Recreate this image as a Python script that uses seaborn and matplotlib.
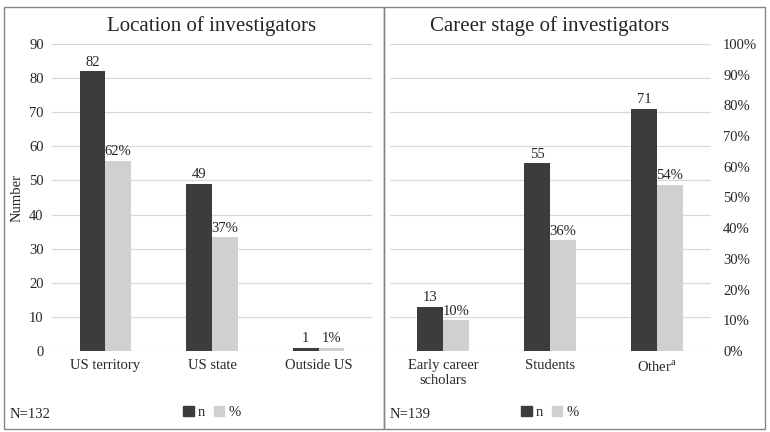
import pandas as pd
import seaborn as sns
import matplotlib.pyplot as plt
from matplotlib.patches import Rectangle
from matplotlib.ticker import FuncFormatter

# data
loc_cats = ["US territory", "US state", "Outside US"]
loc_n = [82, 49, 1]
loc_pct = [62, 37, 1]

career_cats = ["Early career\nscholars", "Students", "Other$^\\mathregular{a}$"]
career_n = [13, 55, 71]
career_pct = [10, 36, 54]

dark = "#3c3c3c"
light = "#d0d0d0"
grid_col = "#d9d9d9"
pal = {"n": dark, "%": light}

sns.set_style("white")
plt.rcParams["font.family"] = ["Liberation Serif", "DejaVu Serif"]
plt.rcParams["mathtext.fontset"] = "custom"
plt.rcParams["mathtext.rm"] = "Liberation Serif"

W, H = 770, 432
fig = plt.figure(figsize=(W / 100, H / 100), dpi=100)


def px(x0, y0, w, h):
    return [x0 / W, 1 - (y0 + h) / H, w / W, h / H]


def panel(rect, cats, n_vals, pct_vals, title, note, show_left, show_right, border):
    ax = fig.add_axes(rect)
    df_n = pd.DataFrame({"cat": cats, "val": n_vals, "series": "n"})
    df_p = pd.DataFrame({"cat": cats, "val": pct_vals, "series": "%"})

    sns.barplot(data=df_n, x="cat", y="val", hue="series", hue_order=["n", "%"],
                palette=pal, width=0.48, gap=0, dodge=True, ax=ax, legend=False,
                saturation=1, linewidth=0)
    ax.set_ylim(0, 90)
    ax.set_yticks(range(0, 91, 10))
    ax.grid(axis="y", color=grid_col, linewidth=0.9)
    ax.set_axisbelow(True)
    for s in ax.spines.values():
        s.set_visible(False)
    ax.tick_params(axis="both", length=0, labelsize=10.5)
    ax.tick_params(axis="y", pad=6)
    ax.tick_params(axis="x", pad=6)
    ax.set_xlabel("")
    ax.set_ylabel("Number" if show_left else "", fontsize=10.5, labelpad=4)
    if not show_left:
        ax.set_yticklabels([])
    ax.set_title(title, fontsize=15, pad=9)
    ax.bar_label(ax.containers[0], fmt="%d", padding=2, fontsize=10.5)

    ax2 = ax.twinx()
    sns.barplot(data=df_p, x="cat", y="val", hue="series", hue_order=["n", "%"],
                palette=pal, width=0.48, gap=0, dodge=True, ax=ax2, legend=False,
                saturation=1, linewidth=0)
    ax2.set_ylim(0, 100)
    ax2.set_yticks(range(0, 101, 10))
    ax2.yaxis.set_major_formatter(FuncFormatter(lambda v, p: f"{v:.0f}%"))
    for s in ax2.spines.values():
        s.set_visible(False)
    ax2.tick_params(axis="y", length=0, labelsize=10.5, pad=9)
    ax2.set_ylabel("")
    if not show_right:
        ax2.set_yticklabels([])
    ax2.bar_label(ax2.containers[-1], fmt="%d%%", padding=2, fontsize=10.5)

    handles = [Rectangle((0, 0), 1, 1, color=dark), Rectangle((0, 0), 1, 1, color=light)]
    ax.legend(handles, ["n", "%"], loc="center", bbox_to_anchor=(0.5, -0.2),
              ncol=2, frameon=False, fontsize=10.5, handlelength=0.7, handleheight=0.7,
              handletextpad=0.3, columnspacing=0.6)

    bx0, by0, bw, bh = border
    fig.add_artist(Rectangle((bx0 / W, 1 - (by0 + bh) / H), bw / W, bh / H,
                             transform=fig.transFigure, fill=False,
                             edgecolor="#858585", linewidth=1))
    fig.text((bx0 + 6) / W, 1 - 414 / H, note, fontsize=10.5, va="center", ha="left")


panel(px(52, 44, 320, 307), loc_cats, loc_n, loc_pct,
      "Location of investigators", "N=132", True, False, (4, 7, 380, 422))
panel(px(389.5, 44, 321, 307), career_cats, career_n, career_pct,
      "Career stage of investigators", "N=139", False, True, (384, 7, 381, 422))

fig.savefig("out.png", dpi=100)
